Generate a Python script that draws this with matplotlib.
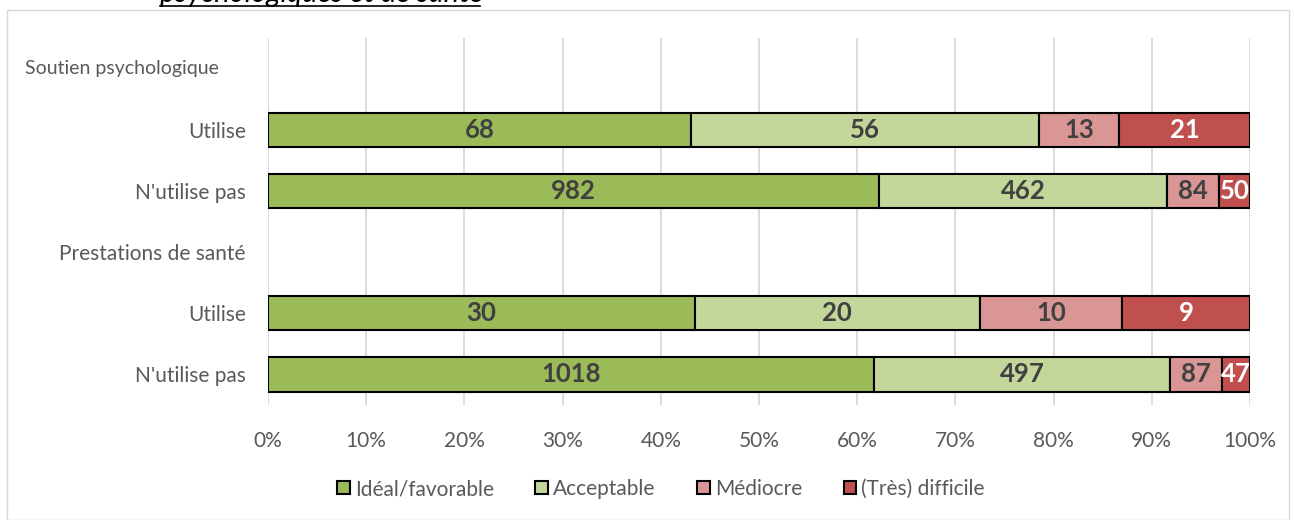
import matplotlib.pyplot as plt
from matplotlib.patches import Patch, Rectangle
from matplotlib.lines import Line2D
from matplotlib.transforms import blended_transform_factory

plt.rcParams['font.family'] = ['Lato', 'DejaVu Sans']

# données
categories = ["Idéal/favorable", "Acceptable", "Médiocre", "(Très) difficile"]
row_labels = ["Soutien psychologique", "Utilise", "N'utilise pas",
              "Prestations de santé", "Utilise", "N'utilise pas"]
soutien_utilise = [68, 56, 13, 21]
soutien_nutilise = [982, 462, 84, 50]
sante_utilise = [30, 20, 10, 9]
sante_nutilise = [1018, 497, 87, 47]

colors = ["#9BBB59", "#C4D79B", "#DA9694", "#C0504D"]
txt_colors = ["#404040", "#404040", "#404040", "white"]

fig = plt.figure(figsize=(12.94, 5.20), dpi=100)
W, H = 1294, 520
ax = fig.add_axes([268 / W, 1 - 405 / H, (1250 - 268) / W, (405 - 38) / H])

bars = {1: soutien_utilise, 2: soutien_nutilise, 4: sante_utilise, 5: sante_nutilise}
for row, vals in bars.items():
    y = 5 - row
    total = sum(vals)
    left = 0
    for i, v in enumerate(vals):
        w = v / total
        ax.barh(y, w, left=left, height=0.56, color=colors[i],
                edgecolor="black", linewidth=1.5, zorder=3)
        ax.text(left + w / 2, y, str(v), ha="center", va="center",
                fontsize=18.5, fontweight="bold", color=txt_colors[i], zorder=4)
        left += w

ax.set_xlim(0, 1)
ax.set_ylim(-0.5, 5.5)
ax.set_xticks([i / 10 for i in range(11)])
ax.set_xticklabels([f"{i * 10}%" for i in range(11)], fontsize=15, color="#595959")
ax.set_yticks([4, 3, 2, 1, 0])
ax.set_yticklabels(row_labels[1:], fontsize=15, color="#595959")
ax.tick_params(axis="both", length=0)
ax.tick_params(axis="x", pad=19)
ax.tick_params(axis="y", pad=16)
trans = blended_transform_factory(fig.transFigure, ax.transData)
ax.text(25 / W, 5, row_labels[0], transform=trans, ha="left", va="center",
        fontsize=14, color="#595959")
ax.grid(axis="x", color="#D9D9D9", linewidth=1.3, zorder=0)
for s in ax.spines.values():
    s.set_visible(False)

handles = [Patch(facecolor=c, edgecolor="black", linewidth=1.5) for c in colors]
fig.legend(handles, categories, loc="center", bbox_to_anchor=(661 / W, 31 / H),
           ncol=4, frameon=False, fontsize=15, handlelength=0.6, handleheight=0.6,
           handletextpad=0.25, columnspacing=2.0, labelcolor="#595959")

# cadre du graphique
fig.patches.append(Rectangle((7 / W, 0), (1289 - 7) / W, 1 - 10 / H,
                             transform=fig.transFigure, fill=False,
                             edgecolor="#D9D9D9", linewidth=1))
# titre coupé en haut
fig.text(160 / W, 1 - 2 / H, "psychologiques et de santé", style="italic",
         fontsize=21, va="baseline", ha="left", color="black")
fig.lines.append(Line2D([160 / W, 480 / W], [1 - 6 / H, 1 - 6 / H],
                        transform=fig.transFigure, color="black", linewidth=1.2))

fig.savefig("out.png", dpi=100)
